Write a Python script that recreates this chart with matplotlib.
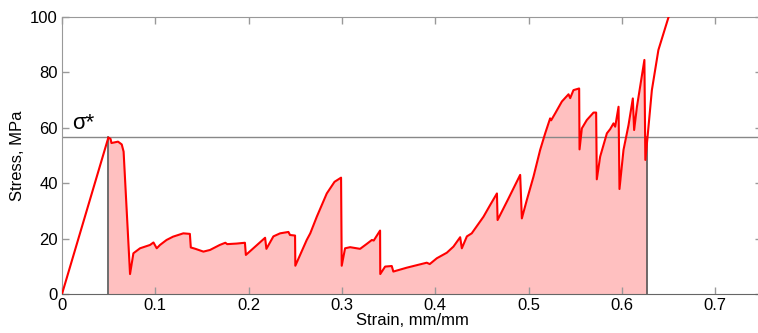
import numpy as np
import matplotlib
matplotlib.use("Agg")
import matplotlib.pyplot as plt

plt.rcParams['font.family'] = ['Liberation Sans', 'DejaVu Sans']

# Strain (mm/mm) and stress (MPa)
strain = [0.0, 0.0497, 0.052, 0.053, 0.060, 0.064, 0.066, 0.0729, 0.0765, 0.0836, 0.0943, 0.098,
          0.1015, 0.105, 0.112, 0.119, 0.130, 0.137, 0.138, 0.143, 0.1515, 0.1586, 0.169, 0.175,
          0.177, 0.187, 0.196, 0.197, 0.205, 0.2176, 0.219, 0.2265, 0.2337, 0.2426, 0.2443,
          0.2497, 0.250, 0.2622, 0.266, 0.273, 0.2837, 0.292, 0.299, 0.2997, 0.3033, 0.3087,
          0.3194, 0.3266, 0.332, 0.334, 0.3408, 0.341, 0.3462, 0.3533, 0.355, 0.3694, 0.3908,
          0.394, 0.4016, 0.4123, 0.4194, 0.4266, 0.4284, 0.4338, 0.439, 0.4516, 0.4587, 0.466,
          0.4667, 0.473, 0.4784, 0.4909, 0.4927, 0.498, 0.5052, 0.5123, 0.5177, 0.523, 0.5241,
          0.5284, 0.5356, 0.5427, 0.5445, 0.548, 0.5541, 0.5545, 0.557, 0.5623, 0.5695, 0.5723,
          0.573, 0.5766, 0.5838, 0.5873, 0.5909, 0.5927, 0.5963, 0.5973, 0.6016, 0.607, 0.6116,
          0.613, 0.616, 0.624, 0.625, 0.6274, 0.632, 0.639, 0.6445, 0.650, 0.655]
stress = [0.0, 56.5, 56.0, 54.5, 55.0, 54.0, 51.4, 7.2, 14.7, 16.5, 17.7, 18.6,
          16.5, 17.7, 19.5, 20.7, 21.9, 21.7, 16.8, 16.3, 15.3, 15.9, 17.7, 18.5,
          18.0, 18.2, 18.5, 14.1, 16.5, 20.3, 16.3, 20.8, 21.9, 22.4, 21.3,
          21.1, 10.2, 19.5, 21.9, 27.9, 36.3, 40.5, 42.0, 10.2, 16.5, 16.9,
          16.3, 18.1, 19.5, 19.3, 22.9, 7.2, 9.9, 10.1, 8.1, 9.5, 11.3,
          10.8, 12.9, 14.9, 17.1, 20.5, 16.5, 20.8, 21.9, 27.9, 32.1, 36.3,
          26.7, 30.9, 34.5, 43.0, 27.3, 33.9, 42.4, 52.0, 58.0, 63.4, 62.7,
          65.2, 69.5, 72.1, 70.7, 73.6, 74.2, 52.2, 59.8, 62.8, 65.5, 65.5,
          41.4, 49.6, 58.0, 59.5, 61.6, 60.4, 67.6, 37.9, 52.0, 61.0, 70.6,
          59.2, 67.6, 84.5, 48.4, 56.8, 73.6, 88.1, 94.1, 100.1, 106.0]

sigma_star = 56.5
fill_start = 0.0497
fill_end = 0.6268

x_ticks = [0, 0.1, 0.2, 0.3, 0.4, 0.5, 0.6, 0.7]
x_tick_labels = ["0", "0.1", "0.2", "0.3", "0.4", "0.5", "0.6", "0.7"]
y_ticks = [0, 20, 40, 60, 80, 100]

W, H = 758, 333
fig = plt.figure(figsize=(W / 100, H / 100), dpi=100)
left, right, top, bottom = 62, 762, 17, 294
ax = fig.add_axes([left / W, 1 - bottom / H, (right - left) / W, (bottom - top) / H])

s = np.array(strain)
t = np.array(stress)
xf = np.linspace(fill_start, fill_end, 2000)
yf = np.interp(xf, s, t)
ax.fill_between(xf, 0, yf, color='#ffc0c0', linewidth=0, zorder=1)

ax.axhline(sigma_star, color='#888888', linewidth=1.0, zorder=2)
ax.plot([fill_start, fill_start], [0, sigma_star], color='#555555', linewidth=1.2, zorder=2)
ax.plot([fill_end, fill_end], [0, sigma_star], color='#555555', linewidth=1.2, zorder=2)
ax.plot(s, t, color='#ff0000', linewidth=1.5, zorder=3)

ax.text(0.011, 57.8, "σ*", fontsize=16, ha='left', va='bottom')

ax.set_xlim(0, 0.75)
ax.set_ylim(0, 100)
ax.set_xticks(x_ticks)
ax.set_xticklabels(x_tick_labels)
ax.set_yticks(y_ticks)
ax.tick_params(direction='in', length=5, width=1, color='#999999', labelsize=12,
               top=True, right=True, pad=3)
for side in ['left', 'top', 'right']:
    ax.spines[side].set_color('#999999')
ax.spines['bottom'].set_color('#666666')
ax.set_xlabel("Strain, mm/mm", fontsize=12, labelpad=0)
ax.set_ylabel("Stress, MPa", fontsize=12, labelpad=4)

fig.savefig("out.png", dpi=100)
